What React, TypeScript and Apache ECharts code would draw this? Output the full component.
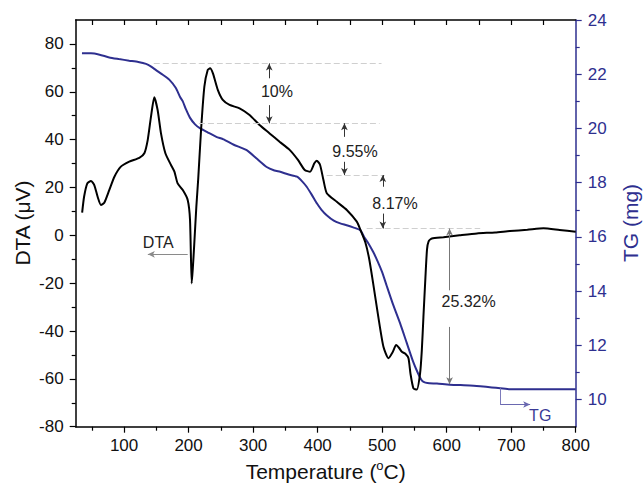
import React, { useEffect, useRef } from 'react';
import * as echarts from 'echarts';

// ---- DTA curve (left axis, µV) ----
const dtaT = [35, 38, 43, 48.7, 53.8, 59, 64.2, 69.3, 77, 85, 95, 108, 123.6, 131.4, 136.6, 141.7, 146.8, 152, 157.2, 164, 172.7, 178, 183, 191, 198.6, 202.2, 204.8, 206.5, 208.7, 212, 215, 219.3, 224.4, 229.6, 233.2, 237.7, 245.4, 253, 263.5, 279, 294.5, 310, 325.6, 341, 356.6, 369.5, 380, 388.3, 394.9, 398.7, 403.8, 409, 414.2, 429.7, 445.2, 460.7, 466, 474, 480, 486, 494, 502, 509.7, 516, 521.7, 526, 530.5, 536, 540.8, 544, 548.5, 553.7, 558.8, 561.5, 564, 567, 569.5, 572, 577, 595, 620, 647, 675, 698, 725, 750, 775, 800];
const dtaV = [9.5, 16.1, 21.7, 22.7, 21, 16.1, 12.7, 13.6, 18.9, 24.5, 28.7, 30.8, 32.4, 34.3, 39.8, 49.6, 57.7, 52.4, 42.6, 34.3, 29.4, 26.6, 21.7, 18.9, 14.8, 6.4, -20.1, -14, -4, 12, 24, 44, 62.1, 69.1, 69.8, 67.7, 60.7, 56.6, 54.5, 53.1, 50.3, 46.1, 42.6, 39.1, 35.7, 31.5, 27.3, 26.6, 30.1, 31.2, 29.4, 23.1, 17.6, 14, 10.6, 5.7, 2.5, -3, -10, -20, -34, -46.6, -51.4, -49, -45.9, -47, -48.7, -49.5, -51.4, -58, -64, -64.5, -57.7, -48, -34, -18, -6, -2.5, -1.3, -0.8, 0, 0.8, 1.2, 1.8, 2.3, 2.9, 2.2, 1.5];

// ---- TG curve (right axis, mg) ----
const tgT = [34.7, 48.7, 62, 77, 92, 108, 122, 134, 142, 149.5, 160, 170, 180, 187, 191, 196, 202, 210, 218, 230, 243, 254, 270, 290, 305, 321, 333, 342, 355, 368, 376, 383, 391, 399, 406, 414, 425, 435, 445, 455, 466, 472, 479, 486, 493, 500, 507, 517, 528, 538, 548, 555, 561, 565, 570, 585, 605, 636, 652, 670, 683, 698, 720, 750, 775, 800];
const tgW = [22.77, 22.77, 22.72, 22.62, 22.56, 22.5, 22.45, 22.38, 22.28, 22.15, 21.98, 21.8, 21.5, 21.15, 21.0, 20.7, 20.4, 20.15, 20.0, 19.85, 19.69, 19.6, 19.4, 19.2, 18.9, 18.58, 18.45, 18.4, 18.3, 18.22, 18.05, 17.85, 17.55, 17.23, 17.0, 16.8, 16.6, 16.5, 16.43, 16.35, 16.25, 16.0, 15.75, 15.45, 15.1, 14.7, 14.2, 13.5, 12.8, 12.1, 11.4, 11.0, 10.72, 10.64, 10.61, 10.59, 10.55, 10.52, 10.49, 10.45, 10.42, 10.38, 10.38, 10.38, 10.38, 10.38];

// ---- tick labels ----
const xLabels = [100, 200, 300, 400, 500, 600, 700, 800];
const xMinor = [50, 150, 250, 350, 450, 550, 650, 750];
const xTop = [50, 100, 150, 200, 250, 300, 350, 400, 450, 500, 550, 600, 650, 700, 750];
const yLeftLabels = [-80, -60, -40, -20, 0, 20, 40, 60, 80];
const yLeftMinor = [-70, -50, -30, -10, 10, 30, 50, 70];
const yRightLabels = [10, 12, 14, 16, 18, 20, 22, 24];
const yRightMinor = [11, 13, 15, 17, 19, 21, 23];

// ---- mass-loss annotations ----
const stepLevels = [22.4, 20.19, 18.28, 16.31, 10.57];
const levelSpans = [[146, 499], [216, 496], [414, 504], [476, 652]];
const stepLabels = ['10%', '9.55%', '8.17%', '25.32%'];
const stepArrowT = [325, 441.5, 501, 604.5];
const stepArrowTails = [[21.85, 20.86], [19.69, 18.77], [17.85, 16.86], [14.03, 12.68]];
const stepLabelPos = [[337, 21.35], [458, 19.16], [520, 17.23], [634, 13.6]];

const NAVY = '#2e2f8f';
const FONT = '"Liberation Sans", Arial, Helvetica, sans-serif';

function buildOption() {
  const dta = dtaT.map((t, i) => [t, dtaV[i]]);
  const tg = tgT.map((t, i) => [t, tgW[i]]);

  const tgMarkLines: any[] = [];
  levelSpans.forEach((s, i) => {
    tgMarkLines.push([
      { coord: [s[0], stepLevels[i]], symbol: 'none', lineStyle: { type: [6, 3], color: '#cfcfcf', width: 1 } },
      { coord: [s[1], stepLevels[i]], symbol: 'none' },
    ]);
  });
  stepArrowT.forEach((t, i) => {
    const col = i === 3 ? '#777' : '#333';
    tgMarkLines.push([
      { coord: [t, stepArrowTails[i][0]], symbol: 'none', lineStyle: { color: col, width: 1, type: 'solid' } },
      { coord: [t, stepLevels[i]], symbol: 'arrow' },
    ]);
    tgMarkLines.push([
      { coord: [t, stepArrowTails[i][1]], symbol: 'none', lineStyle: { color: col, width: 1, type: 'solid' } },
      { coord: [t, stepLevels[i + 1]], symbol: 'arrow' },
    ]);
  });
  // TG pointer
  tgMarkLines.push([
    { coord: [682.9, 10.42], symbol: 'none', lineStyle: { color: '#7d7bbb', width: 1, type: 'solid' } },
    { coord: [682.9, 9.82], symbol: 'none' },
  ]);
  tgMarkLines.push([
    { coord: [682.9, 9.82], symbol: 'none', lineStyle: { color: '#6a68b0', width: 1, type: 'solid' } },
    { coord: [729.4, 9.82], symbol: 'arrow' },
  ]);

  const tgTexts = stepLabels.map((s, i) => ({ name: s, coord: stepLabelPos[i] }));
  tgTexts.push({ name: 'TG', coord: [745, 9.42], label: { color: '#3a3a96' } } as any);

  const tickLabelStyle = { fontSize: 17, fontFamily: FONT, color: '#111' };

  return {
    animation: false,
    backgroundColor: '#fff',
    grid: { left: 75.7, right: 68.3, top: 20, bottom: 56.3, containLabel: false },
    xAxis: [
      {
        type: 'value', min: 25, max: 800, position: 'bottom',
        axisLine: { show: true, onZero: false, lineStyle: { color: '#000', width: 1.5 } },
        axisTick: { show: true, length: 6, customValues: xLabels, lineStyle: { color: '#000', width: 1.2 } },
        axisLabel: { show: true, customValues: xLabels, margin: 10, ...tickLabelStyle },
        splitLine: { show: false },
      },
      {
        type: 'value', min: 25, max: 800, position: 'bottom',
        axisLine: { show: false, onZero: false },
        axisTick: { show: true, length: 4, customValues: xMinor, lineStyle: { color: '#000', width: 1.2 } },
        axisLabel: { show: false },
        splitLine: { show: false },
      },
      {
        type: 'value', min: 25, max: 800, position: 'top',
        axisLine: { show: true, onZero: false, lineStyle: { color: '#000', width: 1.5 } },
        axisTick: { show: true, inside: true, length: 5, customValues: xTop, lineStyle: { color: '#000', width: 1.2 } },
        axisLabel: { show: false },
        splitLine: { show: false },
      },
    ],
    yAxis: [
      {
        type: 'value', min: -80, max: 90, position: 'left',
        axisLine: { show: true, onZero: false, lineStyle: { color: '#000', width: 1.5 } },
        axisTick: { show: true, length: 6, customValues: yLeftLabels, lineStyle: { color: '#000', width: 1.2 } },
        axisLabel: { show: true, customValues: yLeftLabels, margin: 12, ...tickLabelStyle },
        splitLine: { show: false },
      },
      {
        type: 'value', min: 9, max: 24, position: 'right',
        axisLine: { show: true, onZero: false, lineStyle: { color: NAVY, width: 1.5 } },
        axisTick: { show: true, length: 6, customValues: yRightLabels, lineStyle: { color: NAVY, width: 1.2 } },
        axisLabel: { show: true, customValues: yRightLabels, margin: 12, ...tickLabelStyle, color: NAVY },
        splitLine: { show: false },
      },
      {
        type: 'value', min: -80, max: 90, position: 'left',
        axisLine: { show: false, onZero: false },
        axisTick: { show: true, length: 4, customValues: yLeftMinor, lineStyle: { color: '#000', width: 1.2 } },
        axisLabel: { show: false },
        splitLine: { show: false },
      },
      {
        type: 'value', min: 9, max: 24, position: 'right',
        axisLine: { show: false, onZero: false },
        axisTick: { show: true, length: 4, customValues: yRightMinor, lineStyle: { color: NAVY, width: 1.2 } },
        axisLabel: { show: false },
        splitLine: { show: false },
      },
    ],
    series: [
      {
        name: 'TG', type: 'line', xAxisIndex: 0, yAxisIndex: 1, data: tg,
        showSymbol: false, smooth: 0.2, z: 3,
        lineStyle: { color: NAVY, width: 2 },
        markLine: {
          silent: true, symbol: ['none', 'arrow'], symbolSize: [5, 7], animation: false,
          label: { show: false }, emphasis: { disabled: true },
          data: tgMarkLines,
        },
        markPoint: {
          silent: true, symbol: 'circle', symbolSize: 0, animation: false,
          label: { show: true, position: 'inside', formatter: '{b}', fontSize: 16, fontFamily: FONT, color: '#222' },
          data: tgTexts,
        },
      },
      {
        name: 'DTA', type: 'line', xAxisIndex: 0, yAxisIndex: 0, data: dta,
        showSymbol: false, smooth: 0.2, z: 4,
        lineStyle: { color: '#000', width: 2 },
        markLine: {
          silent: true, symbol: ['none', 'arrow'], symbolSize: [5, 7], animation: false,
          label: { show: false }, emphasis: { disabled: true },
          data: [[
            { coord: [198.6, -7.94], symbol: 'none', lineStyle: { color: '#8a8a8a', width: 1, type: 'solid' } },
            { coord: [136.8, -7.94], symbol: 'arrow' },
          ]],
        },
        markPoint: {
          silent: true, symbol: 'circle', symbolSize: 0, animation: false,
          label: { show: true, position: 'inside', formatter: '{b}', fontSize: 16, fontFamily: FONT, color: '#222' },
          data: [{ name: 'DTA', coord: [153, -3.1] }],
        },
      },
    ],
    graphic: [
      {
        type: 'text', x: 22.5, y: 223, rotation: Math.PI / 2,
        style: { text: 'DTA (\u03bcV)', fontSize: 21, fontFamily: FONT, fill: '#111', align: 'center', verticalAlign: 'middle' },
      },
      {
        type: 'text', x: 630, y: 223, rotation: Math.PI / 2,
        style: { text: 'TG (mg)', fontSize: 21, fontFamily: FONT, fill: NAVY, align: 'center', verticalAlign: 'middle' },
      },
      {
        type: 'text', x: 325.7, y: 471,
        style: {
          text: 'Temperature ({sup|o}C)', fontSize: 21, fontFamily: FONT, fill: '#111', align: 'center', verticalAlign: 'middle',
          rich: { sup: { fontSize: 13, fontFamily: FONT, fill: '#111', verticalAlign: 'top', lineHeight: 24 } },
        },
      },
    ],
  };
}

export default function App() {
  const ref = useRef<HTMLDivElement>(null);
  useEffect(() => {
    if (!ref.current) return;
    const chart = echarts.init(ref.current, null, { renderer: 'svg' });
    chart.setOption(buildOption() as any);
    return () => chart.dispose();
  }, []);
  return <div ref={ref} style={{ position: 'fixed', left: 0, top: 0, width: 644, height: 483 }} />;
}
